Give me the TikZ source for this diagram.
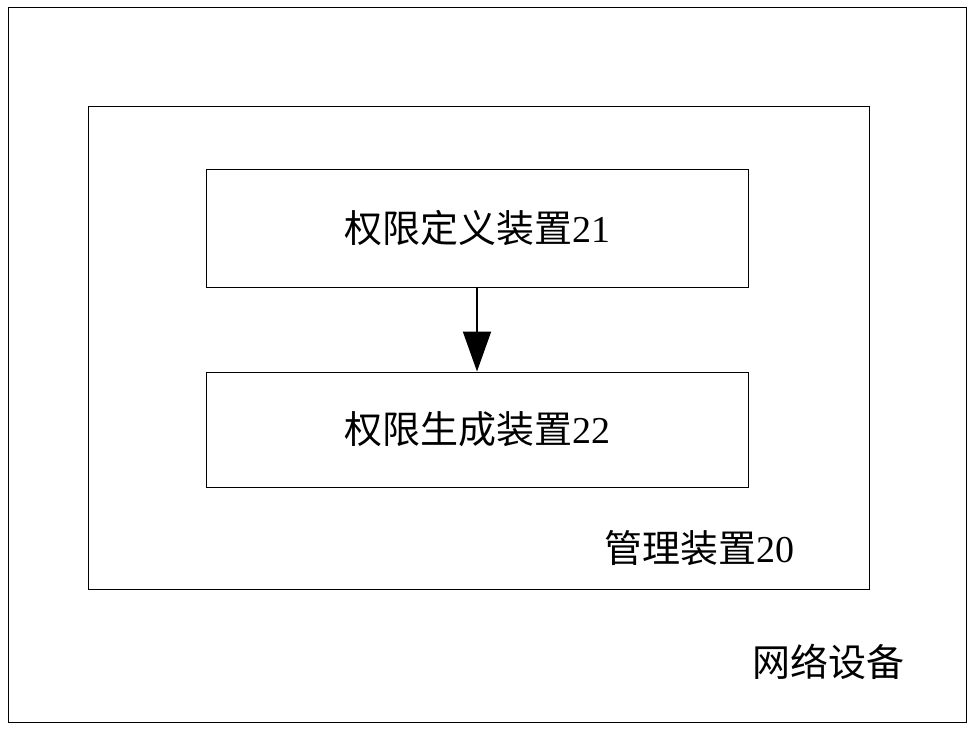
\documentclass[tikz,border=0pt]{standalone}
\usepackage{fontspec}
\setmainfont{Liberation Serif}
\newfontfamily\cjk{Noto Sans CJK SC}
\usetikzlibrary{arrows.meta}
\begin{document}
\begin{tikzpicture}[x=1pt,y=-1pt,
  box/.style={draw,line width=1pt},
  lbl/.style={font=\fontsize{38}{40}\selectfont, inner sep=0pt}]
\useasboundingbox (0,0) rectangle (974,730);
\draw[box] (8,8) rectangle (966,722);
\draw[box] (88,107) rectangle (869,589);
\node[box,minimum width=542pt,minimum height=117pt,lbl] (a) at (477,228.5) {{\cjk 权限定义装置}21};
\node[box,minimum width=542pt,minimum height=115pt,lbl] (b) at (477,429.5) {{\cjk 权限生成装置}22};
\draw[line width=2pt,-{Triangle[length=40pt,width=28pt]}] (a.south) -- (b.north);
\node[lbl,anchor=west] (m) at (604,548) {{\cjk 管理装置}20};
\node[lbl,anchor=west] (n) at (752,662) {\cjk 网络设备};
\end{tikzpicture}
\end{document}
